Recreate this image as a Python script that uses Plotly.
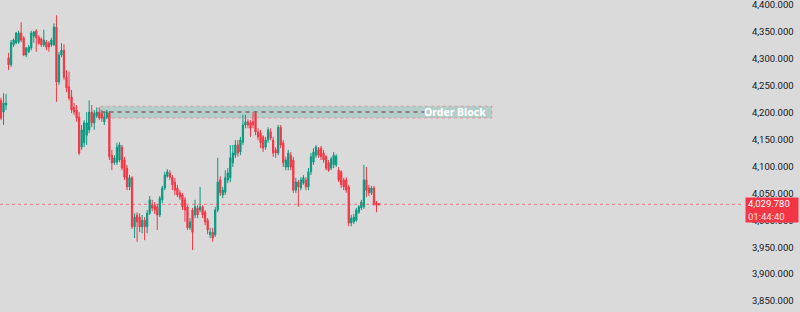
import plotly.graph_objects as go

# ---- data ----
opens = [4223, 4201, 4214, 4302, 4289, 4326, 4330, 4331, 4348, 4339,
         4307, 4313, 4320, 4342, 4352, 4340, 4337, 4326, 4331, 4329,
         4326, 4326, 4359, 4257, 4307, 4316, 4266, 4248, 4229, 4210,
         4205, 4192, 4136, 4144, 4158, 4168, 4201, 4181, 4194, 4201,
         4199, 4183, 4192, 4199, 4121, 4107, 4108, 4112, 4136, 4112,
         4097, 4062, 4079, 3988, 4010, 4006, 3988, 4000, 3988, 4013,
         4028, 4028, 4025, 4010, 4038, 4060, 4082, 4088, 4080, 4071,
         4060, 4051, 4047, 4038, 4025, 3986, 4019, 4010, 4023, 4019,
         4025, 4015, 4000, 3973, 3978, 3973, 4019, 4075, 4047, 4052,
         4075, 4079, 4107, 4121, 4140, 4127, 4145, 4177, 4183, 4181,
         4183, 4199, 4164, 4162, 4155, 4136, 4149, 4164, 4149, 4131,
         4125, 4173, 4144, 4099, 4099, 4121, 4112, 4056, 4071, 4060,
         4069, 4075, 4062, 4090, 4108, 4121, 4131, 4134, 4125, 4118,
         4107, 4097, 4103, 4103, 4093, 4090, 4075, 4075, 4062, 3995,
         3997, 4000, 4015, 4023, 4025, 4075, 4060, 4051, 4060, 4032,
         4031]
highs = [4228, 4236, 4235, 4311, 4335, 4338, 4350, 4352, 4368, 4342,
         4322, 4326, 4352, 4352, 4355, 4344, 4340, 4354, 4335, 4333,
         4339, 4366, 4381, 4313, 4329, 4327, 4279, 4276, 4242, 4218,
         4214, 4201, 4177, 4186, 4201, 4223, 4214, 4205, 4210, 4210,
         4205, 4201, 4205, 4203, 4131, 4121, 4144, 4145, 4140, 4118,
         4103, 4084, 4082, 4013, 4015, 4013, 4010, 4006, 4019, 4045,
         4038, 4034, 4030, 4045, 4064, 4090, 4095, 4093, 4084, 4079,
         4066, 4056, 4051, 4043, 4028, 4004, 4023, 4038, 4028, 4062,
         4028, 4019, 4004, 3986, 3986, 4025, 4116, 4082, 4062, 4093,
         4097, 4140, 4140, 4149, 4149, 4155, 4196, 4196, 4188, 4186,
         4201, 4203, 4171, 4168, 4158, 4155, 4173, 4171, 4155, 4136,
         4177, 4177, 4149, 4118, 4131, 4127, 4118, 4079, 4075, 4080,
         4084, 4080, 4097, 4125, 4134, 4140, 4136, 4138, 4131, 4121,
         4112, 4118, 4127, 4123, 4099, 4093, 4079, 4080, 4066, 4010,
         4012, 4023, 4028, 4038, 4103, 4099, 4066, 4064, 4064, 4036,
         4032]
lows = [4186, 4177, 4205, 4279, 4285, 4322, 4327, 4328, 4331, 4305,
        4303, 4311, 4316, 4330, 4313, 4326, 4322, 4322, 4316, 4313,
        4322, 4324, 4220, 4252, 4303, 4261, 4238, 4223, 4199, 4196,
        4183, 4121, 4131, 4136, 4140, 4162, 4173, 4168, 4190, 4186,
        4183, 4177, 4188, 4112, 4093, 4103, 4103, 4108, 4093, 4075,
        4056, 4056, 3984, 3967, 3960, 3978, 3976, 3963, 3976, 4010,
        4017, 4012, 3982, 4006, 4032, 4056, 4079, 4075, 4056, 4047,
        4043, 4038, 4019, 3997, 3982, 3982, 3945, 4004, 4004, 4015,
        4004, 3991, 3974, 3967, 3960, 3969, 4015, 4045, 4041, 4047,
        4069, 4071, 4099, 4116, 4118, 4121, 4140, 4171, 4171, 4155,
        4171, 4158, 4149, 4134, 4127, 4131, 4144, 4149, 4118, 4116,
        4121, 4134, 4099, 4093, 4093, 4093, 4051, 4051, 4025, 4056,
        4066, 4056, 4056, 4084, 4103, 4116, 4116, 4112, 4107, 4093,
        4090, 4093, 4097, 4099, 4071, 4060, 4056, 4051, 3989, 3989,
        3993, 3997, 4012, 4019, 4021, 4043, 4045, 4047, 4027, 4015,
        4027]
closes = [4190, 4218, 4218, 4289, 4330, 4335, 4348, 4348, 4335, 4307,
          4320, 4322, 4348, 4350, 4339, 4329, 4326, 4335, 4322, 4322,
          4335, 4359, 4257, 4307, 4316, 4266, 4246, 4227, 4205, 4201,
          4190, 4125, 4168, 4181, 4181, 4201, 4181, 4199, 4201, 4190,
          4190, 4192, 4201, 4118, 4107, 4116, 4136, 4140, 4097, 4080,
          4062, 4079, 3988, 4006, 3997, 3988, 4000, 3988, 4013, 4038,
          4023, 4019, 4010, 4041, 4060, 4084, 4090, 4080, 4066, 4056,
          4047, 4043, 4025, 4019, 3986, 3997, 3978, 4025, 4010, 4025,
          4010, 3997, 3982, 3978, 3967, 4019, 4071, 4051, 4056, 4079,
          4088, 4116, 4125, 4140, 4125, 4149, 4177, 4183, 4177, 4171,
          4177, 4164, 4155, 4144, 4134, 4149, 4168, 4153, 4125, 4125,
          4173, 4140, 4107, 4112, 4125, 4099, 4056, 4071, 4062, 4075,
          4079, 4062, 4090, 4118, 4127, 4136, 4121, 4118, 4112, 4097,
          4093, 4114, 4121, 4119, 4075, 4066, 4062, 4056, 3995, 4004,
          4006, 4019, 4025, 4034, 4075, 4056, 4051, 4060, 4030, 4028,
          4029.78]

y_ticks = [3850, 3900, 3950, 4000, 4050, 4100, 4150, 4200, 4250, 4300, 4350, 4400]
last_price = 4029.78
countdown = "01:44:40"
ob_low, ob_high, ob_mid = 4190, 4212, 4201
ob_x = [39.3, 194.8]          # order block start / end (bar index units)
ob_label = "Order Block"

BG = "#dadada"
UP = "#089981"
DOWN = "#f23645"

x = list(range(len(opens)))

fig = go.Figure()
fig.add_trace(go.Candlestick(
    x=x, open=opens, high=highs, low=lows, close=closes,
    increasing=dict(line=dict(color=UP, width=1), fillcolor=UP),
    decreasing=dict(line=dict(color=DOWN, width=1), fillcolor=DOWN),
    whiskerwidth=0, hoverinfo="skip", showlegend=False,
))

# order block zone
fig.add_shape(type="rect", xref="x", yref="y", x0=ob_x[0], x1=ob_x[1],
              y0=ob_low, y1=ob_high, fillcolor="rgba(8,153,129,0.18)",
              line=dict(color="rgba(242,54,69,0.35)", width=1, dash="dot"), layer="below")
fig.add_shape(type="line", xref="x", yref="y", x0=ob_x[0] + 0.6, x1=ob_x[1] - 26,
              y0=ob_mid, y1=ob_mid, line=dict(color="#86646a", width=1.5, dash="4px,4px"))
fig.add_annotation(x=ob_x[1] - 1.5, y=ob_mid, xref="x", yref="y", text="<b>%s</b>" % ob_label,
                   showarrow=False, xanchor="right", yanchor="middle",
                   font=dict(family="Noto Sans", size=10.5, color="#ffffff"))

# last price line
fig.add_shape(type="line", xref="paper", yref="y", x0=0, x1=1, y0=last_price, y1=last_price,
              line=dict(color="rgba(242,54,69,0.6)", width=1, dash="dot"))
fig.add_annotation(xref="paper", yref="y", x=1, y=last_price, xanchor="left", yanchor="top",
                   xshift=1, yshift=7, showarrow=False, align="left",
                   text="{:,.3f}<br><span style='color:#ffe0e3'>{}</span>".format(last_price, countdown),
                   bgcolor=DOWN, borderpad=2, width=48, height=20,
                   font=dict(family="Roboto", size=9.5, color="#ffffff"))

px_per_bar = 2.52
plot_w = 744
x0 = -1 / px_per_bar
fig.update_layout(
    width=800, height=312,
    margin=dict(l=0, r=56, t=0, b=0),
    paper_bgcolor=BG, plot_bgcolor=BG,
    showlegend=False,
    xaxis=dict(visible=False, range=[x0, x0 + plot_w / px_per_bar],
               rangeslider=dict(visible=False)),
    yaxis=dict(side="right", range=[3829.6, 4409.3], tickvals=y_ticks,
               tickformat=",.3f", showgrid=False, zeroline=False, showline=False,
               ticks="outside", ticklen=5, tickcolor=BG, ticklabeloverflow="allow",
               tickfont=dict(family="Roboto", size=9.5, color="#131722")),
)

fig.write_html("out.html")
